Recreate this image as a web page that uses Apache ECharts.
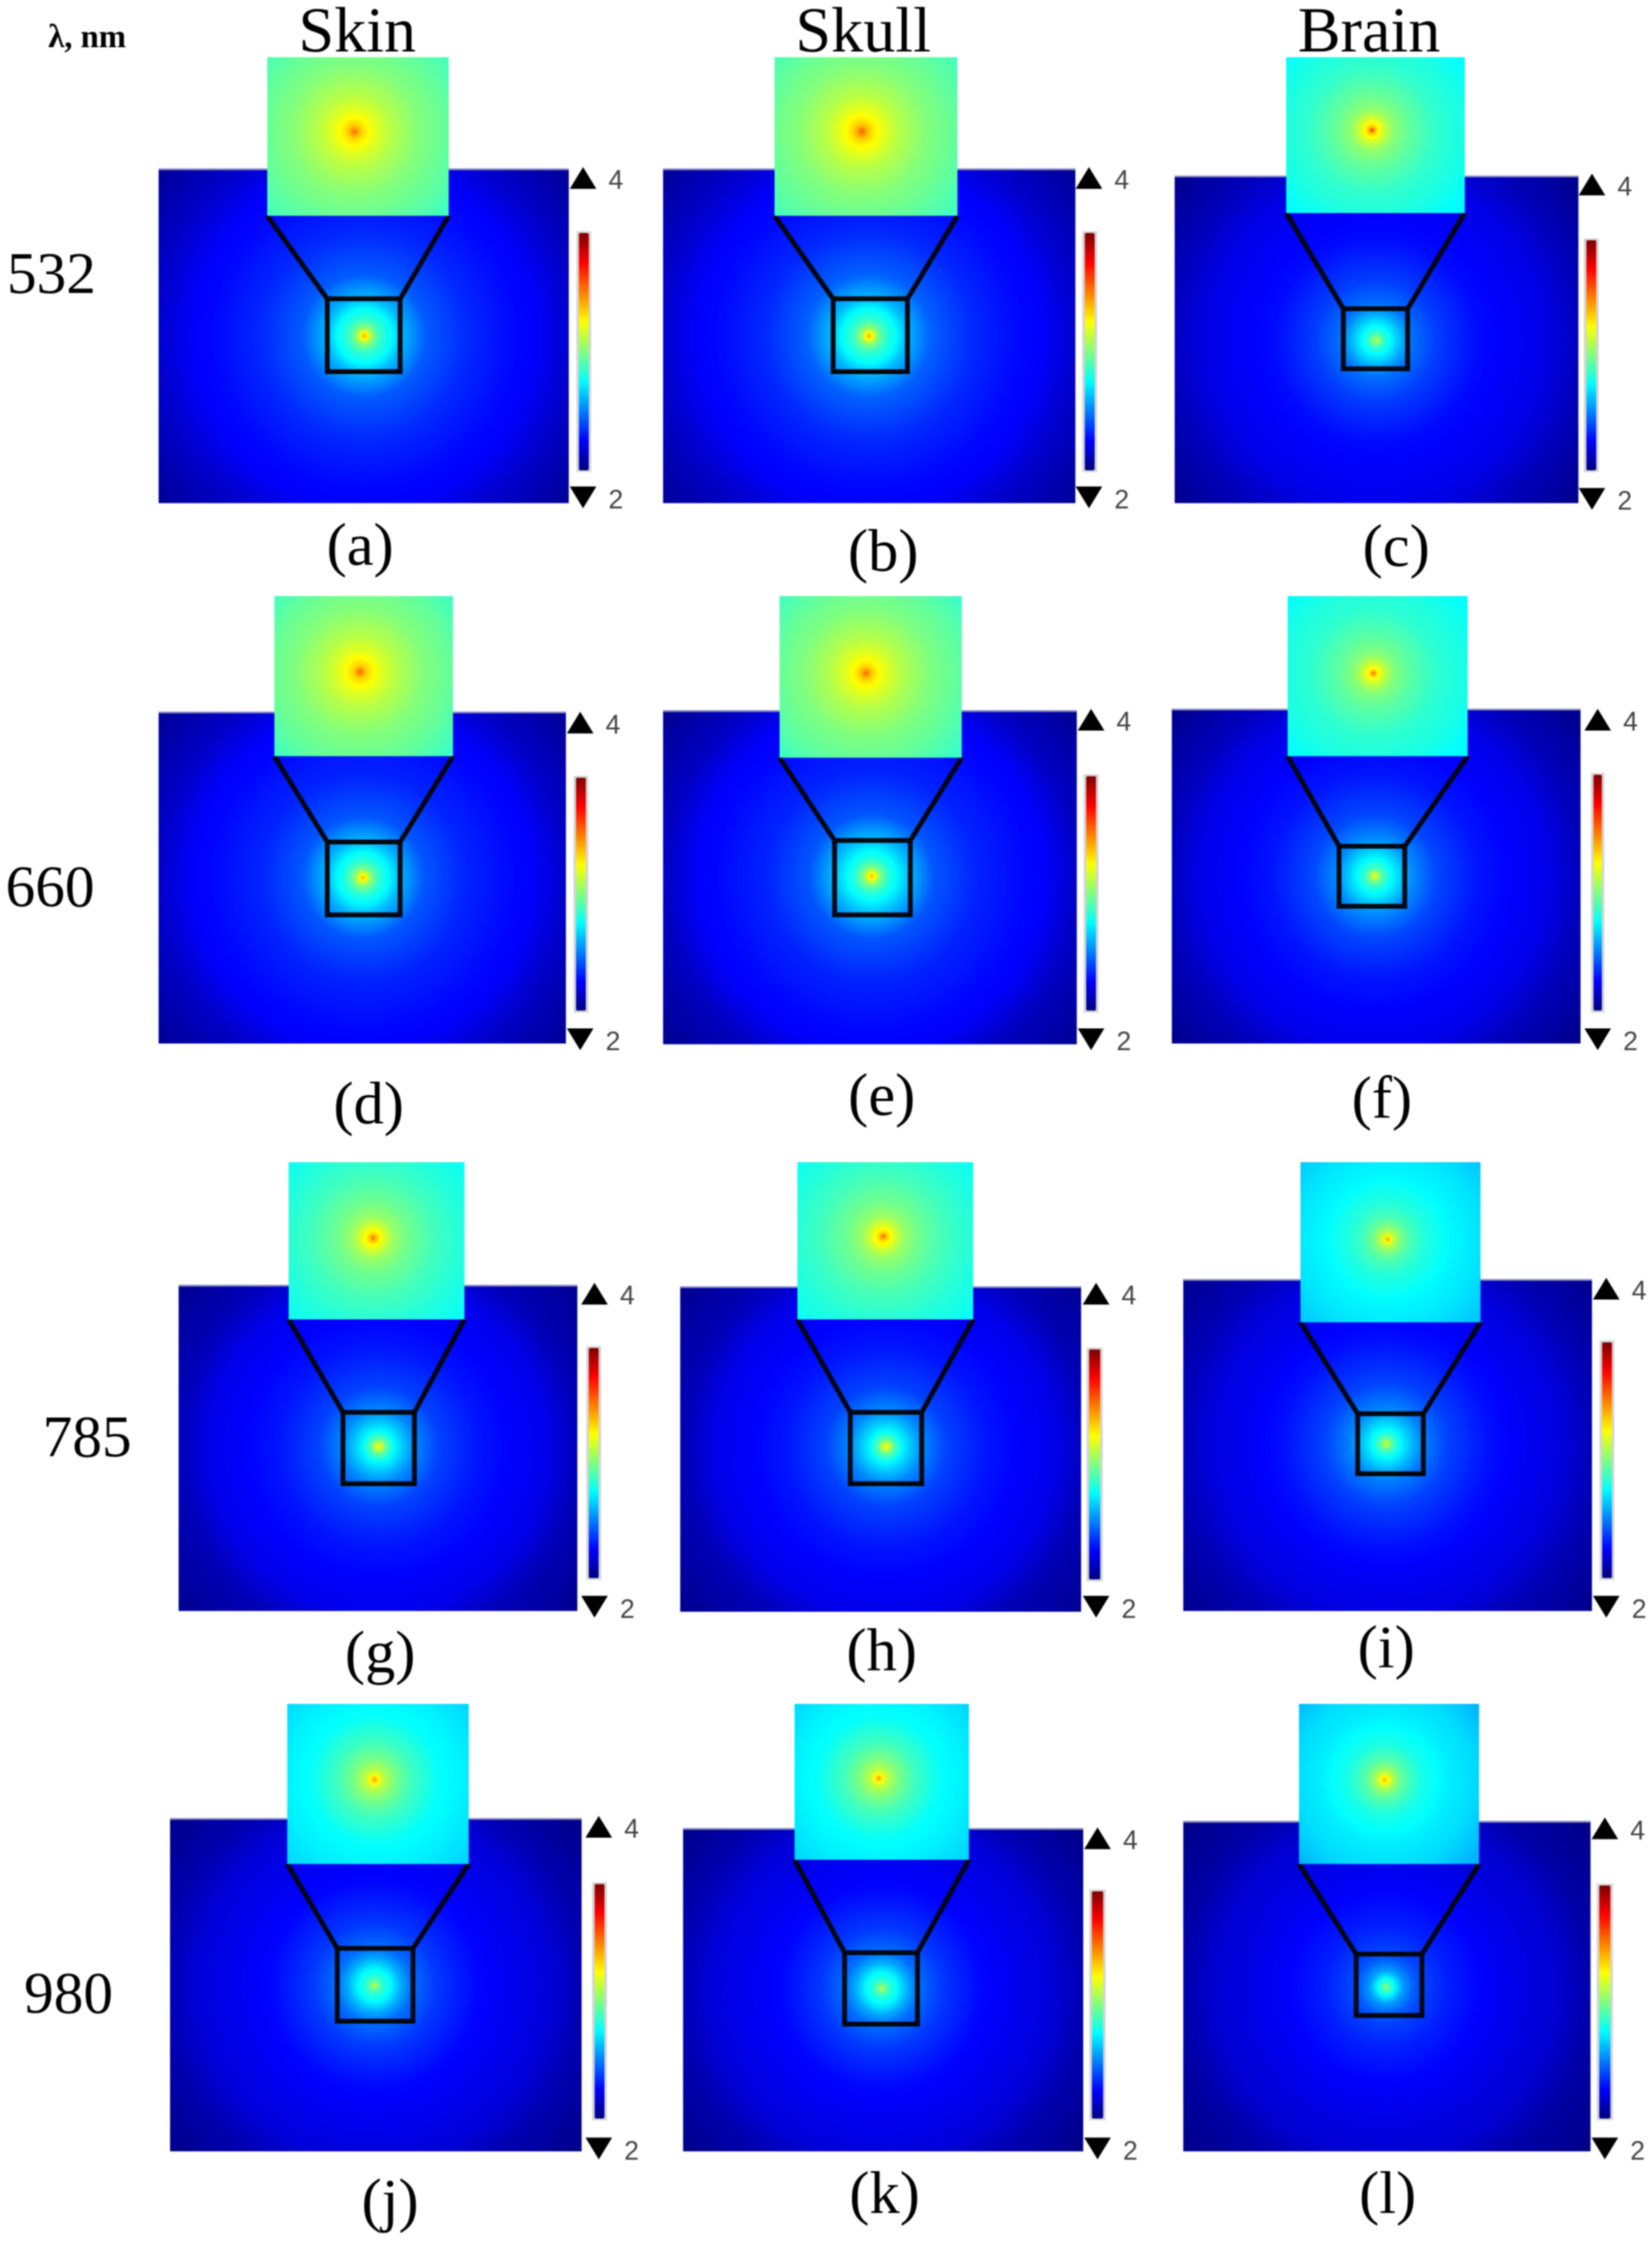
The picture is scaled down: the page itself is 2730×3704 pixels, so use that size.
<!DOCTYPE html>
<html>
<head>
<meta charset="utf-8">
<style>html,body{margin:0;padding:0;background:#fff}#chart{width:2730px;height:3704px;filter:blur(1px)}</style>
<script src="https://cdn.jsdelivr.net/npm/echarts@6/dist/echarts.min.js"></script>
</head>
<body>
<div id="chart"></div>
<script>
// ---------- data ----------
const columnTitles = ['Skin', 'Skull', 'Brain'];
const wavelengths = ['532', '660', '785', '980'];
const wavelengthHeader = 'λ, nm';
const panelLabels = ['(a)','(b)','(c)','(d)','(e)','(f)','(g)','(h)','(i)','(j)','(k)','(l)'];
const colorTicks = [2, 4];
const jetColors = ['#00007f','#0000ff','#007fff','#00ffff','#7fff7f','#ffff00','#ff7f00','#ff0000','#7f0000'];

// radial distance from the source (percent of panel width) and log10 level there
const fieldRadii = [0, 1, 2, 4, 6.6, 9, 15, 25, 35, 42, 50, 65];
const fieldA = [3.42,3.22,3.02,2.85,2.75,2.62,2.43,2.33,2.27,2.24,2.15,2.04];
const fieldB = [3.42,3.22,3.02,2.85,2.75,2.62,2.44,2.33,2.27,2.24,2.15,2.04];
const fieldC = [3.14,2.97,2.84,2.72,2.58,2.47,2.37,2.27,2.23,2.20,2.12,2.02];
const fieldD = [3.40,3.20,3.01,2.84,2.73,2.61,2.42,2.32,2.27,2.24,2.14,2.04];
const fieldE = [3.40,3.20,3.01,2.83,2.72,2.62,2.42,2.32,2.27,2.24,2.13,2.03];
const fieldF = [3.24,3.05,2.89,2.76,2.64,2.53,2.39,2.29,2.24,2.21,2.12,2.02];
const fieldG = [3.30,3.10,2.92,2.74,2.62,2.52,2.38,2.29,2.24,2.21,2.11,2.03];
const fieldH = [3.30,3.10,2.92,2.74,2.62,2.52,2.38,2.29,2.24,2.21,2.11,2.03];
const fieldI = [3.18,3.00,2.86,2.72,2.60,2.50,2.38,2.28,2.22,2.19,2.11,2.02];
const fieldJ = [3.14,2.95,2.84,2.74,2.58,2.47,2.36,2.26,2.21,2.18,2.10,2.01];
const fieldK = [3.14,2.95,2.84,2.74,2.58,2.47,2.36,2.26,2.21,2.18,2.10,2.01];
const fieldL = [3.02,2.88,2.76,2.56,2.44,2.38,2.31,2.24,2.19,2.16,2.08,2.01];

// the same for the magnified view above each panel
const insetRadii = [0, 2, 4, 8, 12, 20, 35, 50, 66];
const insetA = [3.55,3.42,3.33,3.25,3.19,3.11,3.01,2.95,2.88];
const insetB = [3.58,3.45,3.35,3.26,3.20,3.11,3.01,2.95,2.88];
const insetC = [3.65,3.35,3.25,3.12,3.03,2.95,2.85,2.80,2.74];
const insetD = [3.58,3.42,3.33,3.25,3.19,3.11,3.01,2.95,2.87];
const insetE = [3.55,3.42,3.32,3.24,3.18,3.10,3.00,2.94,2.86];
const insetF = [3.55,3.30,3.20,3.08,3.00,2.93,2.84,2.80,2.74];
const insetG = [3.55,3.35,3.26,3.14,3.05,2.97,2.88,2.82,2.77];
const insetH = [3.55,3.35,3.26,3.14,3.05,2.97,2.88,2.82,2.77];
const insetI = [3.45,3.22,3.10,2.98,2.90,2.82,2.74,2.70,2.64];
const insetJ = [3.45,3.28,3.15,3.05,2.98,2.88,2.76,2.72,2.67];
const insetK = [3.45,3.28,3.15,3.05,2.98,2.88,2.76,2.72,2.67];
const insetL = [3.40,3.25,3.12,2.98,2.90,2.80,2.72,2.68,2.60];

const fields = [fieldA,fieldB,fieldC,fieldD,fieldE,fieldF,fieldG,fieldH,fieldI,fieldJ,fieldK,fieldL];
const insets = [insetA,insetB,insetC,insetD,insetE,insetF,insetG,insetH,insetI,insetJ,insetK,insetL];

// ---------- layout (pixels of a 1156-wide sketch, scaled up) ----------
const S = 2730 / 1156;
const mainBox = [[111,398,118,352],[464,752.5,118,352],[822,1104.5,123,352],[111,396,498,730],[464,753.5,497,730.5],[820,1106,496,730],
                 [125,404,899,1127],[476,756.5,900,1127.5],[828,1114,895,1127],[119,407,1272,1505],[478,758,1279,1505],[828,1113,1274,1505]];
const insetBox = [[187,314,40,151],[542,670,40,151],[900,1025,40,149],[192,317,417,529],[545.5,673,417,530],[901,1027,417,529],
                  [202,325,813,923],[558,681,813,923],[910,1036,813,925],[201,328,1192,1304],[556,678,1192,1301],[909,1035,1192,1304]];
const srcBox = [[229,280,209,260],[583,635,209,260],[940,985,216,258],[229,280,589,640],[584,637,588,640],[937,983,592,634],
                [240,290,988,1038],[595,645,988,1038],[950,996,989,1031],[236,289,1363,1414],[591,642,1366,1416],[949,995,1367,1410]];
const srcPoint = [[255,235],[608,235],[963,238],[254,614],[610,613],[962,613],[265,1012],[620,1012],[970,1010],[262,1389],[617,1391],[970,1390]];
const insetPoint = [[248,92],[603,92],[960,91],[252,470],[606,471],[961,471],[261,866],[618,865],[971,867],[262,1245],[615,1244],[969,1245]];
// colour bar: x left, x right, y top, y bottom, triangle x, upper triangle y, lower triangle y
const barBox = [[405,412,163,329,408,124.5,348],[759,766,163,329,762,124.5,348],[1110,1117,168,329,1114,129,349],
                [403,410,544,707,406,505.5,727],[760,767,543,707,763.5,503.5,727],[1115,1121,542,707,1118,503.5,727],
                [412,419,943,1104,416,905,1124],[762,770,944,1105,767,905,1124],[1121,1128,939,1104,1124,901.5,1124],
                [416,423,1318,1482,419,1278,1503],[764,772,1323,1482,768,1286,1503],[1119,1127,1319,1482,1123,1279,1503]];
const labelPos = [[252,384],[618,388],[977,385],[258,775],[617,769],[967,771],[266,1159],[617,1157],[970,1155],[273,1542],[619,1537],[971,1537]];
const columnPos = [[250,24],[604,24],[958,24]];
const rowPos = [[36,194],[35,623],[61,1008],[48,1397]];

// ---------- helpers ----------
function levelColor(v) {
  return echarts.color.lerp(Math.max(0, Math.min(1, (v - 2) / 2)), jetColors);
}
function gradientStops(radii, values) {
  const R = radii[radii.length - 1], stops = [];
  for (let i = 0; i < radii.length - 1; i++) {
    for (let k = 0; k < 8; k++) {
      const t = k / 8;
      stops.push({
        offset: (radii[i] + (radii[i + 1] - radii[i]) * t) / R,
        color: levelColor(values[i] + (values[i + 1] - values[i]) * t)
      });
    }
  }
  stops.push({ offset: 1, color: levelColor(values[values.length - 1]) });
  return stops;
}
function fieldRenderer(radii, values, edge) {
  const R = radii[radii.length - 1];
  const stops = gradientStops(radii, values);
  return function (params, api) {
    const c = api.coord([api.value(0), api.value(1)]);
    const r = api.size([R, 0])[0];
    const cs = params.coordSys;
    const children = [{
      type: 'rect',
      shape: { x: cs.x, y: cs.y, width: cs.width, height: cs.height },
      style: { fill: new echarts.graphic.RadialGradient(c[0], c[1], r, stops, true) },
      silent: true
    }];
    if (edge) {
      children.push({
        type: 'line',
        shape: { x1: cs.x, y1: cs.y + 1, x2: cs.x + cs.width, y2: cs.y + 1 },
        style: { stroke: 'rgba(150,150,200,0.9)', lineWidth: 3 },
        silent: true
      });
    }
    return { type: 'group', children };
  };
}

// ---------- option ----------
const grid = [], xAxis = [], yAxis = [], series = [], visualMap = [], title = [];

function addAxis(box, origin, span) {
  const [l, r, t, b] = box.map(v => v * S);
  const px = (r - l) / span;
  const ox = origin[0] * S, oy = origin[1] * S;
  const idx = grid.length;
  grid.push({ left: l, top: t, width: r - l, height: b - t, containLabel: false, show: false });
  xAxis.push({ type: 'value', gridIndex: idx, show: false, min: (l - ox) / px, max: (r - ox) / px, scale: true });
  yAxis.push({ type: 'value', gridIndex: idx, show: false, min: (oy - b) / px, max: (oy - t) / px, scale: true });
  return { idx, px, ox, oy };
}

panelLabels.forEach((label, i) => {
  const m = addAxis(mainBox[i], srcPoint[i], 100);
  const toX = v => (v * S - m.ox) / m.px;
  const toY = v => (m.oy - v * S) / m.px;
  series.push({
    type: 'custom', name: label + ' field', xAxisIndex: m.idx, yAxisIndex: m.idx, z: 1, animation: false, silent: true,
    coordinateSystem: 'cartesian2d', clip: false,
    renderItem: fieldRenderer(fieldRadii, fields[i], true), data: [[0, 0]]
  });
  // region of interest and the two guide lines to the magnified view
  const sb = srcBox[i], ib = insetBox[i];
  const outline = [[sb[0], sb[2]], [sb[1], sb[2]], [sb[1], sb[3]], [sb[0], sb[3]], [sb[0], sb[2]]];
  series.push({
    type: 'line', name: label + ' box', xAxisIndex: m.idx, yAxisIndex: m.idx, z: 2, silent: true, animation: false,
    showSymbol: false, symbol: 'none', clip: false,
    lineStyle: { color: '#03070f', width: 8, join: 'miter', cap: 'square' },
    data: outline.map(p => [toX(p[0]), toY(p[1])])
  });
  [[ib[0], sb[0]], [ib[1], sb[1]]].forEach(pair => {
    series.push({
      type: 'line', name: label + ' guide', xAxisIndex: m.idx, yAxisIndex: m.idx, z: 2, silent: true, animation: false,
      showSymbol: false, symbol: 'none', clip: false,
      lineStyle: { color: '#03070f', width: 8 },
      data: [[toX(pair[0]), toY(ib[3])], [toX(pair[1]), toY(sb[2])]]
    });
  });

  const n = addAxis(insetBox[i], insetPoint[i], 100);
  series.push({
    type: 'custom', name: label + ' inset', xAxisIndex: n.idx, yAxisIndex: n.idx, z: 3, animation: false, silent: true,
    coordinateSystem: 'cartesian2d', clip: false,
    renderItem: fieldRenderer(insetRadii, insets[i], false), data: [[0, 0]]
  });

  // colour bar with its limit markers
  const bb = barBox[i];
  visualMap.push({
    type: 'continuous', show: true, min: colorTicks[0], max: colorTicks[1], seriesIndex: [], calculable: false,
    left: bb[0] * S - 4, top: bb[2] * S - 3, itemWidth: (bb[1] - bb[0]) * S, itemHeight: (bb[3] - bb[2]) * S,
    padding: [3, 4, 3, 4], backgroundColor: 'rgba(150,150,150,0.4)',
    text: null, showLabel: false, hoverLink: false, inRange: { color: jetColors }
  });
  const ci = grid.length;
  grid.push({ left: (bb[4] - 8) * S, width: 16 * S, top: bb[5] * S, height: (bb[6] - bb[5]) * S, show: false });
  xAxis.push({ type: 'value', gridIndex: ci, show: false, min: -1, max: 1 });
  yAxis.push({ type: 'value', gridIndex: ci, show: false, min: colorTicks[0], max: colorTicks[1] });
  series.push({
    type: 'scatter', name: label + ' limits', xAxisIndex: ci, yAxisIndex: ci, z: 4, silent: true, animation: false, clip: false,
    symbol: 'triangle', symbolSize: [44, 36],
    itemStyle: { color: '#000', opacity: 1 },
    label: {
      show: true, position: 'right', distance: 20, offset: [0, 6], color: '#444',
      fontFamily: '"Liberation Sans", sans-serif', fontSize: 44,
      formatter: p => String(p.value[1])
    },
    data: colorTicks.map(v => ({ value: [0, v], symbolRotate: v === colorTicks[0] ? 180 : 0 }))
  });

  title.push({
    text: label, left: labelPos[i][0] * S, top: labelPos[i][1] * S, padding: 0,
    textAlign: 'center', textVerticalAlign: 'middle',
    textStyle: { fontFamily: '"Liberation Serif", serif', fontSize: 100, fontWeight: 'normal', color: '#000' }
  });
});

columnTitles.forEach((t, i) => title.push({
  text: t, left: columnPos[i][0] * S, top: columnPos[i][1] * S, padding: 0,
  textAlign: 'center', textVerticalAlign: 'middle',
  textStyle: { fontFamily: '"Liberation Serif", serif', fontSize: 106, fontWeight: 'normal', color: '#000' }
}));
wavelengths.forEach((t, i) => title.push({
  text: t, left: rowPos[i][0] * S, top: rowPos[i][1] * S, padding: 0,
  textAlign: 'center', textVerticalAlign: 'middle',
  textStyle: { fontFamily: '"Liberation Serif", serif', fontSize: 98, fontWeight: 'normal', color: '#000' }
}));
title.push({
  text: wavelengthHeader, left: 61 * S, top: 27 * S, padding: 0,
  textAlign: 'center', textVerticalAlign: 'middle',
  textStyle: { fontFamily: '"Liberation Serif", serif', fontSize: 54, fontWeight: 'bold', color: '#000' }
});

const chart = echarts.init(document.getElementById('chart'), null, { renderer: 'canvas', width: 2730, height: 3704 });
chart.setOption({ backgroundColor: '#fff', animation: false, title, grid, xAxis, yAxis, visualMap, series, tooltip: { show: false } });
</script>
</body>
</html>
